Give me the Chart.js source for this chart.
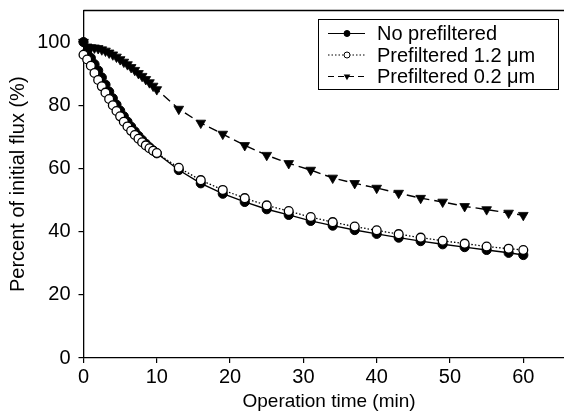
<!DOCTYPE html>
<html>
<head>
<meta charset="utf-8">
<script src="https://cdn.jsdelivr.net/npm/chart.js@4.4.0/dist/chart.umd.min.js"></script>
<style>
  html, body { margin: 0; padding: 0; background: #fff; overflow: hidden; }
  #wrap { width: 581px; height: 414px; }
</style>
</head>
<body>
<div id="wrap"><canvas id="grafico"></canvas></div>
<script>
// Tempo de operação (min)
const tempos = [0, 0.5, 1, 1.5, 2, 2.5, 3, 3.5, 4, 4.5, 5, 5.5, 6, 6.5, 7, 7.5, 8, 8.5, 9, 9.5, 10,
    13, 16, 19, 22, 25, 28, 31, 34, 37, 40, 43, 46, 49, 52, 55, 58, 60]

// Percentual do fluxo inicial (%)
const semPrefiltro = [100, 97, 95, 93, 91, 88.8, 86.5, 84.3, 82.2, 80.2, 78.3, 76.5, 74.8, 73.2, 71.7, 70.3, 69, 67.8, 66.7, 65.7, 64.8,
    59.5, 55.3, 52, 49.4, 47.1, 45.3, 43.4, 41.9, 40.5, 39.3, 38.1, 37, 36, 35.1, 34.2, 33.3, 32.6]
const prefiltro12 = [96, 94.5, 92.5, 90.2, 88, 86, 84, 82, 80, 78.2, 76.5, 74.8, 73.3, 71.9, 70.6, 69.4, 68.3, 67.3, 66.4, 65.6, 64.9,
    60.2, 56.3, 53.2, 50.6, 48.3, 46.5, 44.6, 43, 41.6, 40.4, 39.2, 38.1, 37.1, 36.2, 35.3, 34.6, 34.2]
const prefiltro02 = [100, 98.5, 98.3, 98.2, 98, 97.6, 97.2, 96.6, 96, 95.3, 94.5, 93.7, 92.9, 92, 91.1, 90.1, 89.2, 88.2, 87.2, 86.1, 85,
    78.8, 74.4, 70.9, 67.3, 64.2, 61.6, 59.5, 57, 55.3, 53.8, 52.2, 50.6, 49.4, 48, 47, 45.9, 45.2]

const nomes = ['No prefiltered', 'Prefiltered 1.2 \u03BCm', 'Prefiltered 0.2 \u03BCm']

const fonte = "'Liberation Sans', Arial, Helvetica, sans-serif"

function pontos(valores) {
    return tempos.map((t, i) => ({ x: t, y: valores[i] }))
}

// desenha o marcador da legenda
function marcador(ctx, tipo, x, y, r) {
    ctx.beginPath()
    if (tipo === 'tri') {
        ctx.moveTo(x - r * 0.87, y - r * 0.5)
        ctx.lineTo(x + r * 0.87, y - r * 0.5)
        ctx.lineTo(x, y + r)
        ctx.closePath()
        ctx.fillStyle = '#000'
        ctx.fill()
    } else {
        ctx.arc(x, y, r, 0, Math.PI * 2)
        ctx.fillStyle = tipo === 'aberto' ? '#fff' : '#000'
        ctx.fill()
        ctx.lineWidth = 1
        ctx.strokeStyle = '#000'
        ctx.stroke()
    }
}

// moldura superior + legenda com caixa
const extras = {
    id: 'extras',
    afterDraw(chart) {
        const ctx = chart.ctx
        const area = chart.chartArea
        ctx.save()
        ctx.strokeStyle = '#000'
        ctx.lineWidth = 1.3
        ctx.beginPath()
        ctx.moveTo(area.left, area.top)
        ctx.lineTo(area.right + 5, area.top)
        ctx.stroke()

        // caixa da legenda
        ctx.lineWidth = 1
        ctx.strokeRect(318.5, 19.5, 240, 70)
        const tipos = ['cheio', 'aberto', 'tri']
        const tracos = [[], [1.5, 2], [6, 4]]
        chart.data.datasets.forEach((ds, i) => {
            const y = 33.5 + i * 21.5
            ctx.setLineDash(tracos[i])
            ctx.lineWidth = 1.2
            ctx.beginPath()
            ctx.moveTo(328, y)
            ctx.lineTo(365, y)
            ctx.stroke()
            ctx.setLineDash([])
            marcador(ctx, tipos[i], 347, y, tipos[i] === 'tri' ? 3.8 : 3)
            ctx.fillStyle = '#000'
            ctx.font = '20px ' + fonte
            ctx.textBaseline = 'middle'
            ctx.textAlign = 'left'
            ctx.fillText(ds.label, 377, y + 1)
        })
        ctx.restore()
    }
}

const ctx = document.getElementById('grafico')
new Chart(ctx, {
    type: 'scatter',
    data: {
        datasets: [{
            label: nomes[0],
            data: pontos(semPrefiltro),
            showLine: true,
            borderColor: '#000',
            borderWidth: 1.4,
            backgroundColor: '#000',
            pointStyle: 'circle',
            pointRadius: 4.6,
            pointBorderWidth: 1,
            pointBackgroundColor: '#000',
            order: 2,
            clip: false
        }, {
            label: nomes[1],
            data: pontos(prefiltro12),
            showLine: true,
            borderColor: '#000',
            borderWidth: 1.3,
            borderDash: [1.5, 2],
            pointStyle: 'circle',
            pointRadius: 4.4,
            pointBorderWidth: 1.3,
            pointBackgroundColor: '#fff',
            order: 1,
            clip: false
        }, {
            label: nomes[2],
            data: pontos(prefiltro02),
            showLine: true,
            borderColor: '#000',
            borderWidth: 1.4,
            borderDash: [9, 5],
            pointStyle: 'triangle',
            pointRotation: 180,
            pointRadius: 5.6,
            pointBorderWidth: 0.8,
            pointBackgroundColor: '#000',
            order: 3,
            clip: false
        }]
    },
    options: {
        responsive: true,
        maintainAspectRatio: false,
        animation: false,
        layout: { padding: { top: 10.5, right: 0, left: 0, bottom: 0 } },
        plugins: {
            legend: { display: false },
            tooltip: { enabled: false }
        },
        scales: {
            x: {
                type: 'linear',
                min: 0,
                max: 67,
                afterFit(scale) {
                    scale.height = 56
                    scale.paddingLeft = 0
                    scale.paddingRight = 0
                },
                ticks: {
                    stepSize: 10,
                    includeBounds: false,
                    color: '#000',
                    padding: 2,
                    maxRotation: 0,
                    font: { family: fonte, size: 20 }
                },
                grid: { drawOnChartArea: false, drawTicks: true, tickLength: 5, color: '#000', lineWidth: 1.2 },
                border: { color: '#000', width: 1.3 },
                title: {
                    display: true,
                    text: 'Operation time (min)',
                    color: '#000',
                    padding: { top: 0, bottom: 1 },
                    font: { family: fonte, size: 19 }
                }
            },
            y: {
                min: 0,
                max: 110,
                afterFit(scale) {
                    scale.width = 83.5
                    scale.paddingTop = 0
                    scale.paddingBottom = 0
                },
                ticks: {
                    stepSize: 20,
                    includeBounds: false,
                    color: '#000',
                    padding: 8,
                    font: { family: fonte, size: 20 }
                },
                grid: { drawOnChartArea: false, drawTicks: true, tickLength: 5, color: '#000', lineWidth: 1.2 },
                border: { color: '#000', width: 1.3 },
                title: {
                    display: true,
                    text: 'Percent of initial flux (%)',
                    color: '#000',
                    padding: { top: 6, bottom: 0 },
                    font: { family: fonte, size: 20 }
                }
            }
        }
    },
    plugins: [extras]
})
</script>
</body>
</html>
